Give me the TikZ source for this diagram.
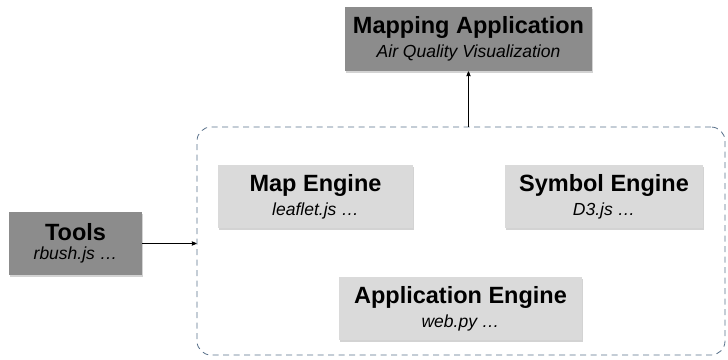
\documentclass[tikz,border=0pt]{standalone}
\usepackage{fontspec}
\setmainfont{Liberation Sans}
\usepackage{tikz}
\usetikzlibrary{positioning,shadows,arrows}
\usepackage{xcolor}

\definecolor{darkbox}{HTML}{8C8C8C}
\definecolor{lightbox}{HTML}{DADADA}
\definecolor{framecol}{HTML}{58708A}

\newcommand{\boxlabel}[2]{{\bfseries\fontsize{23.5}{25}\selectfont #1}\\[5pt]{\itshape\fontsize{17.5}{19}\selectfont #2}}

\tikzset{
  block/.style={rectangle,align=center,minimum height=63pt,inner sep=2pt,
    drop shadow={opacity=0.35,shadow xshift=0.6pt,shadow yshift=-1.6pt}},
  outer/.style={block,fill=darkbox},
  engine/.style={block,fill=lightbox},
  frame/.style={rectangle,draw=framecol,dashed,dash pattern=on 6pt off 4.5pt,
    rounded corners=14pt,line width=0.8pt}
}

\begin{document}
\begin{tikzpicture}[x=1pt,y=1pt,->,>=stealth',thick,node distance=112pt]
	\useasboundingbox (0,0) rectangle (728,-359);

	\node[frame,minimum width=528pt,minimum height=228pt] (engines) at (461,-241) {};

	\node[engine,minimum width=243pt] (app) at (460.5,-308.5) {\boxlabel{Application Engine}{web.py \dots}};
	\node[engine,minimum width=195pt,on grid] (map) [above left=112pt and 145pt of app] {\boxlabel{Map Engine}{leaflet.js \dots}};
	\node[engine,minimum width=198pt,on grid] (symbol) [above right=112pt and 143.5pt of app] {\boxlabel{Symbol Engine}{D3.js \dots}};

	\node[outer,minimum width=133pt] (tools) at (75.5,-243.5) {\boxlabel{Tools}{rbush.js \dots}};
	\node[outer,minimum width=247pt,minimum height=64pt] (mapping) at (468.5,-39) {\boxlabel{Mapping Application}{Air Quality Visualization}};

	\draw (tools.east) -- (tools.east -| engines.west);
	\draw (mapping.south |- engines.north) -- (mapping.south);
\end{tikzpicture}
\end{document}
